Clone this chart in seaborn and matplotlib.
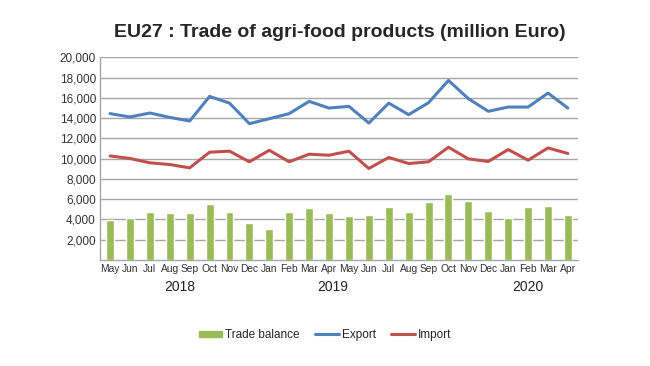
import numpy as np
import pandas as pd
import matplotlib
matplotlib.use("Agg")
import matplotlib.pyplot as plt
import matplotlib.transforms as mtransforms
from matplotlib.patches import Patch
from matplotlib.lines import Line2D
import seaborn as sns

# Data
months = ["May", "Jun", "Jul", "Aug", "Sep", "Oct", "Nov", "Dec", "Jan", "Feb", "Mar", "Apr",
          "May", "Jun", "Jul", "Aug", "Sep", "Oct", "Nov", "Dec", "Jan", "Feb", "Mar", "Apr"]
years = ["2018", "2019", "2020"]
year_pos = [3.5, 11.2, 21.0]

export = [14450, 14120, 14510, 14080, 13720, 16150, 15490, 13460, 13950, 14450, 15660, 15000,
          15170, 13520, 15490, 14350, 15530, 17730, 15930, 14680, 15100, 15100, 16480, 15000]
imports = [10270, 10020, 9590, 9420, 9090, 10640, 10740, 9690, 10830, 9690, 10440, 10340,
           10740, 9030, 10120, 9520, 9690, 11130, 9980, 9720, 10900, 9850, 11060, 10510]
balance = [3940, 4100, 4760, 4600, 4600, 5520, 4760, 3680, 3020, 4690, 5090, 4600,
           4330, 4430, 5250, 4700, 5740, 6500, 5840, 4830, 4170, 5190, 5350, 4430]

GREEN = "#9bbb59"
BLUE = "#4f81bd"
RED = "#c0504d"

sns.set_style("white")
plt.rcParams["font.family"] = ["Liberation Sans", "DejaVu Sans"]

df = pd.DataFrame({"pos": np.arange(len(months)), "export": export,
                   "import": imports, "balance": balance})

fig = plt.figure(figsize=(6.5, 3.66), dpi=100)
ax = fig.add_axes([0.154, 0.290, 0.735, 0.553])

sns.barplot(data=df, x="pos", y="balance", color=GREEN, width=0.4,
            saturation=1, ax=ax, zorder=2)
sns.lineplot(data=df, x="pos", y="export", color=BLUE, linewidth=2.2, ax=ax, zorder=3)
sns.lineplot(data=df, x="pos", y="import", color=RED, linewidth=2.2, ax=ax, zorder=3)

ax.set_xlim(-0.5, len(months) - 0.5)
ax.set_ylim(0, 20000)
ax.set_yticks(np.arange(2000, 20001, 2000))
ax.set_yticklabels([f"{v:,}" for v in range(2000, 20001, 2000)], fontsize=8.5, color="#333333")
ax.yaxis.grid(True, color="#a6a6a6", linewidth=1, zorder=0)
ax.set_axisbelow(True)

ax.set_xticks(df["pos"])
ax.set_xticklabels(months, fontsize=7.4, color="#333333")
ax.set_xticks(np.arange(-0.5, len(months), 1), minor=True)
ax.tick_params(axis="x", which="major", length=0, pad=3)
ax.tick_params(axis="x", which="minor", length=3, direction="in", color="#a6a6a6")
ax.tick_params(axis="y", length=0, pad=3)
ax.set_xlabel("")
ax.set_ylabel("")

for side in ["top", "right"]:
    ax.spines[side].set_visible(False)
for side in ["left", "bottom"]:
    ax.spines[side].set_color("#a6a6a6")
    ax.spines[side].set_linewidth(1)

trans = mtransforms.blended_transform_factory(ax.transData, ax.transAxes)
for yr, xp in zip(years, year_pos):
    ax.text(xp, -0.135, yr, transform=trans, ha="center", va="center",
            fontsize=10, color="#222222")

fig.suptitle("EU27 : Trade of agri-food products (million Euro)", x=0.523, y=0.935,
             fontsize=14, fontweight="bold")

handles = [Patch(color=GREEN, label="Trade balance"),
           Line2D([], [], color=BLUE, linewidth=2.2, label="Export"),
           Line2D([], [], color=RED, linewidth=2.2, label="Import")]
fig.legend(handles=handles, loc="center", bbox_to_anchor=(0.5, 0.085), ncol=3,
           frameon=False, fontsize=8.5, handlelength=2.0, handleheight=0.45,
           columnspacing=1.3, handletextpad=0.25)

fig.savefig("out.png", dpi=100)
